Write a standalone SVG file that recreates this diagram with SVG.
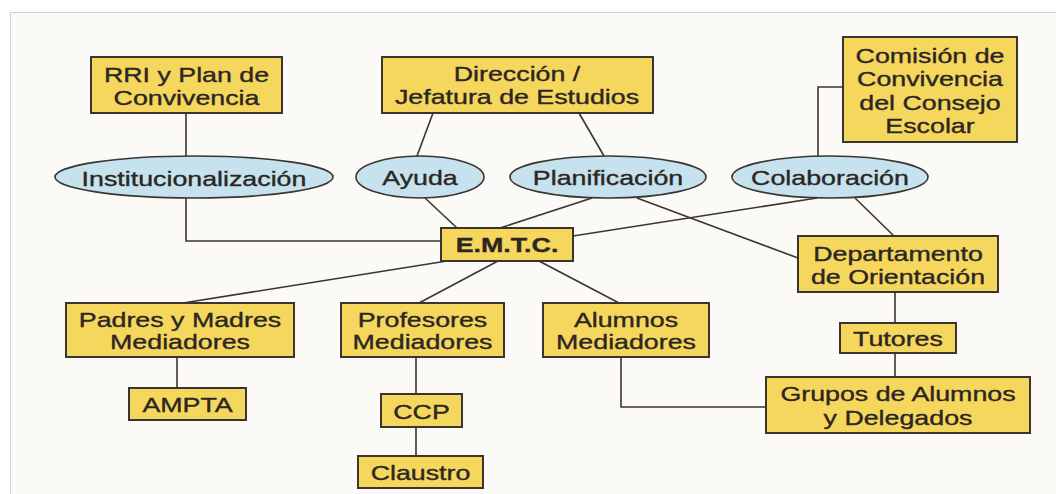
<svg xmlns="http://www.w3.org/2000/svg" width="1056" height="494" viewBox="0 0 1056 494">
<style>
.bg{fill:#fbfaf7}
.box{fill:#f6d75e;stroke:#3b3530;stroke-width:2}
.ell{fill:#c6e2ee;stroke:#3b3530;stroke-width:1.6}
.ln{fill:none;stroke:#3b3530;stroke-width:1.6}
text{font-family:"Liberation Sans",Arial,sans-serif;font-size:20px;fill:#2b2622;stroke:#2b2622;stroke-width:0.35;text-anchor:middle}
.b{font-weight:bold}
</style>
<rect x="0" y="0" width="1056" height="494" fill="#ffffff"/>
<rect class="bg" x="10.5" y="12.5" width="1046" height="482" stroke="#d2d0cd" stroke-width="1"/>
<g id="connectors">
<polyline class="ln" points="186,113 186,157"/>
<polyline class="ln" points="186,198 186,241 441,241"/>
<line class="ln" x1="433" y1="113" x2="417" y2="156"/>
<line class="ln" x1="579" y1="113" x2="604" y2="156"/>
<line class="ln" x1="425" y1="198" x2="457" y2="228"/>
<line class="ln" x1="592" y1="198" x2="500" y2="228"/>
<line class="ln" x1="637" y1="198" x2="798" y2="258"/>
<line class="ln" x1="573" y1="236" x2="817" y2="198"/>
<polyline class="ln" points="843,87 818,87 818,157"/>
<line class="ln" x1="855" y1="198" x2="894" y2="236"/>
<line class="ln" x1="447" y1="261" x2="183" y2="303"/>
<line class="ln" x1="498" y1="261" x2="419" y2="303"/>
<line class="ln" x1="539" y1="261" x2="619" y2="303"/>
<line class="ln" x1="177" y1="357" x2="177" y2="388"/>
<line class="ln" x1="416" y1="357" x2="416" y2="394"/>
<line class="ln" x1="416" y1="427" x2="416" y2="456"/>
<polyline class="ln" points="621,357 621,407 766,407"/>
<line class="ln" x1="895" y1="292" x2="895" y2="323"/>
<line class="ln" x1="895" y1="353" x2="895" y2="377"/>
</g>
<g id="rri">
<rect class="box" x="91" y="57" width="191" height="56"/>
<text transform="translate(186.5,0) scale(1.34,1)" y="82">RRI y Plan de</text>
<text transform="translate(186.5,0) scale(1.34,1)" y="105">Convivencia</text>
</g>
<g id="direccion">
<rect class="box" x="382" y="57" width="271" height="56"/>
<text transform="translate(517,0) scale(1.34,1)" y="81">Dirección /</text>
<text transform="translate(517,0) scale(1.34,1)" y="104">Jefatura de Estudios</text>
</g>
<g id="comision">
<rect class="box" x="843" y="37" width="174" height="105"/>
<text transform="translate(930,0) scale(1.34,1)" y="63">Comisión de</text>
<text transform="translate(930,0) scale(1.34,1)" y="86">Convivencia</text>
<text transform="translate(930,0) scale(1.34,1)" y="110">del Consejo</text>
<text transform="translate(930,0) scale(1.34,1)" y="133">Escolar</text>
</g>
<g id="institucionalizacion">
<ellipse class="ell" cx="194" cy="177" rx="139" ry="21"/>
<text transform="translate(194,0) scale(1.34,1)" y="186">Institucionalización</text>
</g>
<g id="ayuda">
<ellipse class="ell" cx="420" cy="177" rx="64" ry="21"/>
<text transform="translate(420,0) scale(1.34,1)" y="185">Ayuda</text>
</g>
<g id="planificacion">
<ellipse class="ell" cx="608" cy="177" rx="98" ry="21"/>
<text transform="translate(608,0) scale(1.34,1)" y="185">Planificación</text>
</g>
<g id="colaboracion">
<ellipse class="ell" cx="830" cy="177" rx="98" ry="21"/>
<text transform="translate(830,0) scale(1.34,1)" y="185">Colaboración</text>
</g>
<g id="emtc">
<rect class="box" x="441" y="228" width="132" height="33"/>
<text class="b" transform="translate(507,0) scale(1.34,1)" y="252">E.M.T.C.</text>
</g>
<g id="departamento">
<rect class="box" x="798" y="236" width="200" height="56"/>
<text transform="translate(898,0) scale(1.34,1)" y="261">Departamento</text>
<text transform="translate(898,0) scale(1.34,1)" y="284">de Orientación</text>
</g>
<g id="padres">
<rect class="box" x="66" y="303" width="228" height="54"/>
<text transform="translate(180,0) scale(1.34,1)" y="327">Padres y Madres</text>
<text transform="translate(180,0) scale(1.34,1)" y="349">Mediadores</text>
</g>
<g id="profesores">
<rect class="box" x="341" y="303" width="163" height="54"/>
<text transform="translate(422.5,0) scale(1.34,1)" y="327">Profesores</text>
<text transform="translate(422.5,0) scale(1.34,1)" y="349">Mediadores</text>
</g>
<g id="alumnos">
<rect class="box" x="543" y="303" width="166" height="54"/>
<text transform="translate(626,0) scale(1.34,1)" y="327">Alumnos</text>
<text transform="translate(626,0) scale(1.34,1)" y="349">Mediadores</text>
</g>
<g id="tutores">
<rect class="box" x="840" y="323" width="116" height="30"/>
<text transform="translate(898,0) scale(1.34,1)" y="346">Tutores</text>
</g>
<g id="grupos">
<rect class="box" x="766" y="377" width="264" height="56"/>
<text transform="translate(898,0) scale(1.34,1)" y="401">Grupos de Alumnos</text>
<text transform="translate(898,0) scale(1.34,1)" y="425">y Delegados</text>
</g>
<g id="ampta">
<rect class="box" x="129" y="388" width="117" height="32"/>
<text transform="translate(187.5,0) scale(1.34,1)" y="412">AMPTA</text>
</g>
<g id="ccp">
<rect class="box" x="381" y="394" width="81" height="33"/>
<text transform="translate(421.5,0) scale(1.34,1)" y="419">CCP</text>
</g>
<g id="claustro">
<rect class="box" x="358" y="456" width="125" height="32"/>
<text transform="translate(420.5,0) scale(1.34,1)" y="480">Claustro</text>
</g>
</svg>
